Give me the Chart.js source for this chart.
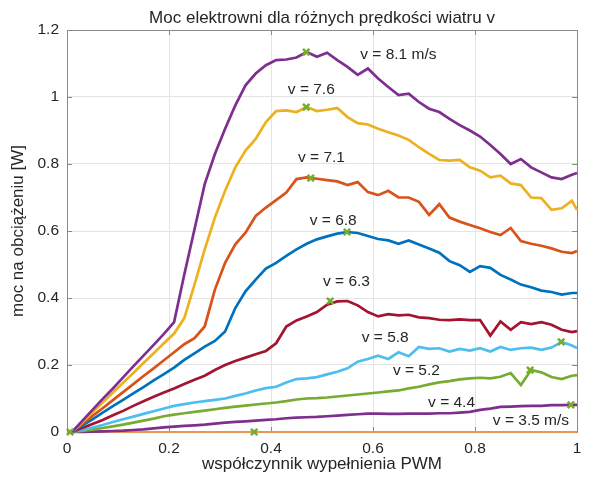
<!DOCTYPE html>
<html>
<head>
<meta charset="utf-8">
<script src="https://cdn.jsdelivr.net/npm/chart.js@4.4.1/dist/chart.umd.min.js"></script>
<style>
  html, body { margin: 0; padding: 0; background: #fff; }
  #wrap { width: 589px; height: 481px; }
</style>
</head>
<body>
<div id="wrap"><canvas id="chart" width="589" height="481"></canvas></div>
<script>
// współczynnik wypełnienia PWM (shared x grid)
const pwm = [0.01, 0.03, 0.05, 0.07, 0.09, 0.11, 0.13, 0.15, 0.17, 0.19,
    0.21, 0.23, 0.25, 0.27, 0.29, 0.31, 0.33, 0.35, 0.37, 0.39,
    0.41, 0.43, 0.45, 0.47, 0.49, 0.51, 0.53, 0.55, 0.57, 0.59,
    0.61, 0.63, 0.65, 0.67, 0.69, 0.71, 0.73, 0.75, 0.77, 0.79,
    0.81, 0.83, 0.85, 0.87, 0.89, 0.91, 0.93, 0.95, 0.97, 0.99, 1.00];

const p81 = [0, 0.033, 0.066, 0.099, 0.13, 0.163, 0.196, 0.228, 0.26, 0.293,
    0.328, 0.47, 0.605, 0.74, 0.83, 0.905, 0.975, 1.035, 1.07, 1.095,
    1.11, 1.112, 1.118, 1.134, 1.12, 1.132, 1.11, 1.09, 1.066, 1.085,
    1.055, 1.03, 1.006, 1.01, 0.985, 0.965, 0.955, 0.935, 0.916, 0.9,
    0.882, 0.857, 0.83, 0.80, 0.815, 0.79, 0.775, 0.76, 0.755, 0.768, 0.773];
const p76 = [0, 0.029, 0.059, 0.088, 0.118, 0.147, 0.176, 0.206, 0.235, 0.265,
    0.294, 0.34, 0.44, 0.545, 0.64, 0.72, 0.79, 0.84, 0.875, 0.925,
    0.958, 0.96, 0.955, 0.97, 0.958, 0.962, 0.967, 0.94, 0.922, 0.918,
    0.905, 0.895, 0.885, 0.872, 0.85, 0.83, 0.812, 0.81, 0.812, 0.79,
    0.78, 0.76, 0.765, 0.742, 0.737, 0.70, 0.698, 0.663, 0.668, 0.69, 0.663];
const p71 = [0, 0.024, 0.048, 0.071, 0.095, 0.119, 0.143, 0.167, 0.19, 0.214,
    0.238, 0.262, 0.28, 0.315, 0.425, 0.505, 0.56, 0.595, 0.645, 0.67,
    0.692, 0.715, 0.755, 0.76, 0.756, 0.752, 0.748, 0.737, 0.746, 0.716,
    0.707, 0.72, 0.70, 0.70, 0.687, 0.648, 0.68, 0.64, 0.628, 0.618,
    0.608, 0.597, 0.588, 0.609, 0.57, 0.562, 0.556, 0.548, 0.538, 0.534, 0.54];
const p68 = [0, 0.019, 0.038, 0.058, 0.077, 0.096, 0.115, 0.134, 0.154, 0.173,
    0.192, 0.215, 0.235, 0.255, 0.272, 0.30, 0.37, 0.42, 0.455, 0.488,
    0.505, 0.526, 0.545, 0.562, 0.575, 0.584, 0.592, 0.597, 0.594, 0.585,
    0.576, 0.572, 0.562, 0.572, 0.56, 0.548, 0.535, 0.51, 0.498, 0.478,
    0.495, 0.49, 0.469, 0.455, 0.44, 0.432, 0.422, 0.418, 0.41, 0.415, 0.415];
const p63 = [0, 0.012, 0.024, 0.036, 0.05, 0.063, 0.078, 0.092, 0.105, 0.118,
    0.13, 0.143, 0.156, 0.168, 0.185, 0.2, 0.212, 0.222, 0.232, 0.242,
    0.265, 0.315, 0.333, 0.345, 0.358, 0.38, 0.39, 0.391, 0.378, 0.358,
    0.345, 0.352, 0.348, 0.35, 0.342, 0.34, 0.335, 0.334, 0.336, 0.334,
    0.334, 0.288, 0.33, 0.305, 0.328, 0.322, 0.328, 0.32, 0.305, 0.298, 0.301];
const p58 = [0, 0.006, 0.013, 0.021, 0.03, 0.038, 0.046, 0.054, 0.062, 0.07,
    0.078, 0.083, 0.088, 0.092, 0.096, 0.10, 0.108, 0.115, 0.124, 0.131,
    0.135, 0.148, 0.158, 0.16, 0.164, 0.172, 0.18, 0.19, 0.21, 0.218,
    0.228, 0.218, 0.238, 0.226, 0.254, 0.248, 0.25, 0.24, 0.248, 0.243,
    0.25, 0.24, 0.254, 0.245, 0.25, 0.252, 0.245, 0.252, 0.269, 0.258, 0.251];
const p52 = [0, 0.003, 0.007, 0.012, 0.017, 0.022, 0.028, 0.034, 0.04, 0.047,
    0.052, 0.056, 0.06, 0.064, 0.068, 0.072, 0.076, 0.079, 0.082, 0.085,
    0.088, 0.092, 0.097, 0.10, 0.101, 0.103, 0.106, 0.109, 0.112, 0.115,
    0.118, 0.121, 0.124, 0.13, 0.135, 0.142, 0.148, 0.152, 0.157, 0.16,
    0.162, 0.16, 0.165, 0.176, 0.14, 0.185, 0.178, 0.164, 0.158, 0.168, 0.17];
const p44 = [0, 0, 0.001, 0.002, 0.003, 0.004, 0.006, 0.008, 0.011, 0.014,
    0.016, 0.018, 0.02, 0.022, 0.025, 0.028, 0.03, 0.032, 0.034, 0.036,
    0.038, 0.041, 0.043, 0.044, 0.045, 0.047, 0.049, 0.051, 0.053, 0.055,
    0.055, 0.054, 0.054, 0.055, 0.055, 0.055, 0.056, 0.056, 0.058, 0.06,
    0.066, 0.07, 0.075, 0.076, 0.077, 0.078, 0.078, 0.08, 0.08, 0.081, 0.081];
const p35 = [0, 0, 0, 0, 0, 0, 0, 0, 0, 0,
    0, 0, 0, 0, 0, 0, 0, 0, 0, 0,
    0, 0, 0, 0, 0, 0, 0, 0, 0, 0,
    0, 0, 0, 0, 0, 0, 0, 0, 0, 0,
    0, 0, 0, 0, 0, 0, 0, 0, 0, 0, 0];

// maximum power points (green crosses)
const maxX = [0.469, 0.469, 0.478, 0.549, 0.516, 0.969, 0.908, 0.988, 0.367, 0.006];
const maxY = [1.134, 0.970, 0.758, 0.597, 0.391, 0.269, 0.185, 0.081, 0, 0];

// curve labels (text + anchor in data units, left / middle)
const labelText = ['v = 8.1 m/s', 'v = 7.6', 'v = 7.1', 'v = 6.8', 'v = 6.3',
    'v = 5.8', 'v = 5.2', 'v = 4.4', 'v = 3.5 m/s'];
const labelX = [0.575, 0.433, 0.453, 0.476, 0.502, 0.578, 0.639, 0.708, 0.835];
const labelY = [1.125, 1.021, 0.818, 0.630, 0.448, 0.281, 0.182, 0.087, 0.033];

const xTicks = [0, 0.2, 0.4, 0.6, 0.8, 1];
const yTicks = [0, 0.2, 0.4, 0.6, 0.8, 1, 1.2];

const TITLE = 'Moc elektrowni dla różnych prędkości wiatru v';
const FONT = "'Liberation Sans', Arial, sans-serif";
const TEXT = '#262626';

function pts(ys) {
    return pwm.map((x, i) => ({x: x, y: ys[i]}));
}

function line(ys, color, width) {
    return {
        type: 'line',
        data: pts(ys),
        borderColor: color,
        borderWidth: width || 2.7,
        pointRadius: 0,
        tension: 0,
        fill: false,
        clip: 3
    };
}

// frame, inward tick marks, title and curve labels
const axesBox = {
    id: 'axesBox',
    beforeDatasetsDraw(chart) {
        const {ctx, chartArea: a, scales: {x, y}} = chart;
        ctx.save();
        ctx.strokeStyle = '#8a8a8a';
        ctx.lineWidth = 1;
        ctx.beginPath();
        xTicks.forEach(t => {
            const px = Math.round(x.getPixelForValue(t)) + 0.5;
            ctx.moveTo(px, a.bottom); ctx.lineTo(px, a.bottom - 5);
            ctx.moveTo(px, a.top); ctx.lineTo(px, a.top + 5);
        });
        yTicks.forEach(t => {
            const py = Math.round(y.getPixelForValue(t)) + 0.5;
            ctx.moveTo(a.left, py); ctx.lineTo(a.left + 5, py);
            ctx.moveTo(a.right, py); ctx.lineTo(a.right - 5, py);
        });
        ctx.stroke();
        ctx.strokeRect(Math.round(a.left) + 0.5, Math.round(a.top) + 0.5,
            Math.round(a.right - a.left), Math.round(a.bottom - a.top));
        ctx.restore();
    },
    afterDatasetsDraw(chart) {
        const {ctx, chartArea: a, scales: {x, y}} = chart;
        ctx.save();
        ctx.fillStyle = TEXT;
        ctx.font = '17px ' + FONT;
        ctx.textAlign = 'center';
        ctx.textBaseline = 'alphabetic';
        ctx.fillText(TITLE, (a.left + a.right) / 2, 23);

        ctx.font = '15.5px ' + FONT;
        ctx.textAlign = 'left';
        ctx.textBaseline = 'middle';
        labelText.forEach((t, i) => {
            ctx.fillText(t, x.getPixelForValue(labelX[i]), y.getPixelForValue(labelY[i]));
        });
        ctx.restore();
    }
};

new Chart(document.getElementById('chart'), {
    data: {
        datasets: [
            {
                type: 'scatter',
                data: maxX.map((v, i) => ({x: v, y: maxY[i]})),
                pointStyle: 'crossRot',
                pointRadius: 4.5,
                pointBorderWidth: 2.6,
                borderColor: '#77AC30',
                backgroundColor: '#77AC30',
                showLine: false,
                clip: false
            },
            line(p81, '#7E2F8E'),
            line(p76, '#EDB120'),
            line(p71, '#D95319'),
            line(p68, '#0072BD'),
            line(p63, '#A2142F'),
            line(p58, '#4DBEEE'),
            line(p52, '#77AC30'),
            line(p44, '#7E2F8E'),
            line(p35, '#E8955A', 2)
        ]
    },
    options: {
        responsive: false,
        animation: false,
        layout: {padding: {left: 0, right: 12, top: 30, bottom: 0}},
        plugins: {
            legend: {display: false},
            tooltip: {enabled: false},
            title: {display: false}
        },
        scales: {
            x: {
                type: 'linear',
                min: 0,
                max: 1,
                afterFit: s => { s.height = 49; },
                afterBuildTicks: s => { s.ticks = xTicks.map(v => ({value: v})); },
                grid: {color: '#e4e4e4', drawTicks: false},
                border: {display: false},
                ticks: {
                    color: TEXT,
                    font: {family: FONT, size: 15.5},
                    padding: 7,
                    maxRotation: 0,
                    callback: v => String(+v.toFixed(1))
                },
                title: {
                    display: true,
                    text: 'współczynnik wypełnienia PWM',
                    color: TEXT,
                    font: {family: FONT, size: 17},
                    padding: {top: 0, bottom: 6}
                }
            },
            y: {
                type: 'linear',
                min: 0,
                max: 1.2,
                afterFit: s => { s.width = 67; },
                afterBuildTicks: s => { s.ticks = yTicks.map(v => ({value: v})); },
                grid: {color: '#e4e4e4', drawTicks: false},
                border: {display: false},
                ticks: {
                    color: TEXT,
                    font: {family: FONT, size: 15.5},
                    padding: 8,
                    callback: v => String(+v.toFixed(1))
                },
                title: {
                    display: true,
                    text: 'moc na obciążeniu [W]',
                    color: TEXT,
                    font: {family: FONT, size: 17},
                    padding: {top: 8, bottom: 0}
                }
            }
        }
    },
    plugins: [axesBox]
});
</script>
</body>
</html>
